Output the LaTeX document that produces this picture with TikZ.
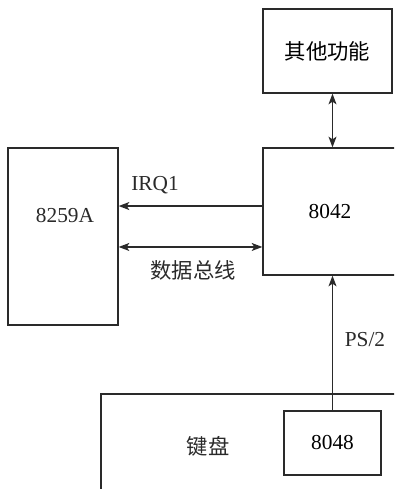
\documentclass[tikz,border=0pt]{standalone}
\usepackage{fontspec}
\setmainfont{Liberation Serif}
\newfontfamily\cjk{Noto Sans CJK SC}
\usetikzlibrary{arrows.meta,positioning}
\definecolor{Ink}{HTML}{2A2A2A}

\begin{document}
\begin{tikzpicture}[x=0.75pt,y=-0.75pt,
  box/.style={draw=Ink,line width=1pt,inner sep=0pt,font=\fontsize{16}{18}\selectfont},
  lbl/.style={font=\fontsize{16}{18}\selectfont,text=Ink,inner sep=0pt},
  wire/.style={draw=Ink,line width=1pt},
  >={Stealth[length=8pt,width=6pt,inset=2pt]}]
\useasboundingbox (0,0) rectangle (394,489);
\clip (0,0) rectangle (394,489);
% boxes
\node[box,minimum width=96.75pt,minimum height=63pt] (other) at (327.5,51) {\cjk 其他功能};
\node[box,minimum width=100.5pt,minimum height=95.25pt] (ctl) at (330,211.5) {8042};
\node[box,minimum width=82.5pt,minimum height=132.75pt] (pic) at (63,236.5) {};
\node[lbl] (pictxt) at (65,216) {8259A};
\node[box,minimum width=240pt,minimum height=90pt] (kbd) at (261,454) {};
\node[lbl] (kbdtxt) at (208,446) {\cjk 键盘};
\node[box,fill=white,minimum width=72.75pt,minimum height=48pt] (enc) at (332.5,443) {8048};
% connectors
\draw[wire,<->] (other.south -| enc) -- (ctl.north -| enc);
\draw[wire,->] ([yshift=4.1pt]ctl.west) -- ([yshift=4.1pt]ctl.west -| pic.east);
\draw[wire,<->] ([yshift=-26.6pt]ctl.west) -- ([yshift=-26.6pt]ctl.west -| pic.east);
\draw[wire,->] (enc.north) -- (enc.north |- ctl.south);
% labels
\node[lbl] (irq) at (155,185) {IRQ1};
\node[lbl] (bus) at (193,270) {\cjk 数据总线};
\node[lbl] (ps) at (365,340) {PS/2};
\end{tikzpicture}
\end{document}
